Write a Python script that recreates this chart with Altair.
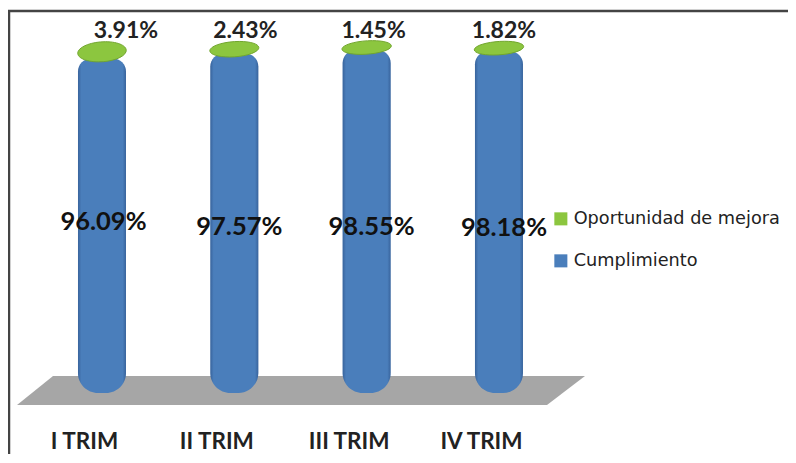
import altair as alt
import pandas as pd

cats = ["I TRIM", "II TRIM", "III TRIM", "IV TRIM"]
pos = [1, 2, 3, 4]
cumplimiento = [96.09, 97.57, 98.55, 98.18]
oportunidad = [3.91, 2.43, 1.45, 1.82]
series = ["Oportunidad de mejora", "Cumplimiento"]
colors = ["#8cc63f", "#4a7ebb"]
floor_x = [0.358, 0.630, 4.363, 4.650]
floor_top = [-3.45, 4.9, 4.9, 4.9]
floor_bottom = [-3.45, -3.45, -3.45, 4.9]

df = pd.DataFrame({"cat": cats, "pos": pos, "c": cumplimiento, "o": oportunidad,
                   "c_lab": [f"{v:.2f}%" for v in cumplimiento],
                   "o_lab": [f"{v:.2f}%" for v in oportunidad],
                   "s1": series[1], "s0": series[0]})
df["mid"] = df["c"] / 2
df["ell"] = df["c"] + df["o"] / 2
fl = pd.DataFrame({"x": floor_x, "t": floor_top, "b": floor_bottom})

W, H = 780, 446
xs = alt.Scale(domain=[0.2897, 6.1842], nice=False, zero=False, padding=0)
ys = alt.Scale(domain=[-17.53, 110.63], nice=False, zero=False, padding=0)
color = alt.Scale(domain=series, range=colors)


def ell(ry, rot=-4):
    return f"M-1,0A1,{ry},{rot},1,1,1,0A1,{ry},{rot},1,1,-1,0Z"


shapes = alt.Scale(domain=cats, range=[ell(0.41), ell(0.31), ell(0.27), ell(0.27)])

X_axis = alt.Axis(values=pos, labelExpr="['I TRIM','II TRIM','III TRIM','IV TRIM'][datum.value-1]",
                  domain=False, ticks=False, grid=False, title=None, labelFont="Lato", labelFontWeight="bold",
                  labelFontSize=22.5, labelColor="#222222", labelOffset=-18, labelPadding=-24, labelOverlap=False)
Xn = alt.X("pos:Q", scale=xs, axis=None)

floor = alt.Chart(fl).mark_area(color="#a6a6a6", interpolate="linear").encode(
    x=alt.X("x:Q", scale=xs, axis=None), y=alt.Y("t:Q", scale=ys, axis=None), y2="b:Q")

bar_style = dict(size=48, cornerRadiusTopLeft=13, cornerRadiusTopRight=13,
                 cornerRadiusBottomLeft=20, cornerRadiusBottomRight=20)

blue = alt.Chart(df).mark_bar(**bar_style).encode(
    x=alt.X("pos:Q", scale=xs, axis=X_axis), y=alt.Y("c:Q", scale=ys, axis=None), y2=alt.datum(0),
    color=alt.Color("s1:N", scale=color, legend=alt.Legend(
        orient="none", legendX=544, legendY=202, title=None, symbolType="square", symbolSize=170,
        labelFont="DejaVu Sans", labelFontSize=17.7, labelColor="#222222", rowPadding=23, symbolStrokeWidth=0,
        labelOffset=4, labelLimit=260)))

shade = alt.Chart(df).mark_bar(**bar_style,
    fill=alt.Gradient(gradient="linear", x1=0, x2=1, y1=0, y2=0, stops=[
        alt.GradientStop(offset=0, color="rgba(30,60,110,0.4)"),
        alt.GradientStop(offset=0.07, color="rgba(30,60,110,0)"),
        alt.GradientStop(offset=0.93, color="rgba(30,60,110,0)"),
        alt.GradientStop(offset=1, color="rgba(30,60,110,0.4)")])).encode(
    x=Xn, y=alt.Y("c:Q", scale=ys, axis=None), y2=alt.datum(0))

shine = alt.Chart(df).mark_point(filled=True, size=64, opacity=1, color="#a4cdf2", dy=13).encode(
    x=Xn, y=alt.Y("c:Q", scale=ys, axis=None), shape=alt.value(ell(0.3, -10)))

green = alt.Chart(df).mark_point(filled=True, size=2304, opacity=1, stroke="#72a62e", strokeWidth=1, dy=1).encode(
    x=Xn, y=alt.Y("ell:Q", scale=ys, axis=None),
    shape=alt.Shape("cat:N", scale=shapes, legend=None),
    color=alt.Color("s0:N", scale=color))

top_line = alt.Chart(df.head(1)).mark_rule(color="#444444", strokeWidth=2.5).encode(
    x=alt.value(0), x2=alt.value(W), y=alt.value(3))
left_line = alt.Chart(df.head(1)).mark_rule(color="#444444", strokeWidth=2.5).encode(
    x=alt.value(1), y=alt.value(3), y2=alt.value(H))

layers = [floor, blue, shade, shine, green, top_line, left_line]

mid_dx = [1.5, 5, 5, 5]
mid_dy = [-4, 4, 5.5, 6]
top_dx = [24, 11, 7, 5]
top_dy = [-21, -18, -16.5, -17]
for i, cat in enumerate(cats):
    d = df[df.cat == cat]
    layers.append(alt.Chart(d).mark_text(font="Lato", fontWeight="bold", fontSize=25.5, color="#111111",
                                         dx=mid_dx[i], dy=mid_dy[i]).encode(
        x=Xn, y=alt.Y("mid:Q", scale=ys, axis=None), text="c_lab:N"))
    layers.append(alt.Chart(d).mark_text(font="Lato", fontWeight="bold", fontSize=23, color="#222222",
                                         dx=top_dx[i], dy=top_dy[i]).encode(
        x=Xn, y=alt.Y("ell:Q", scale=ys, axis=None), text="o_lab:N"))

chart = alt.layer(*layers).resolve_scale(shape="independent").resolve_axis(x="independent").properties(
    width=W, height=H, padding=0, autosize=alt.AutoSizeParams(type="none")).configure_view(strokeWidth=0)
chart.save("out.html", embed_options={"renderer": "svg", "actions": False})
